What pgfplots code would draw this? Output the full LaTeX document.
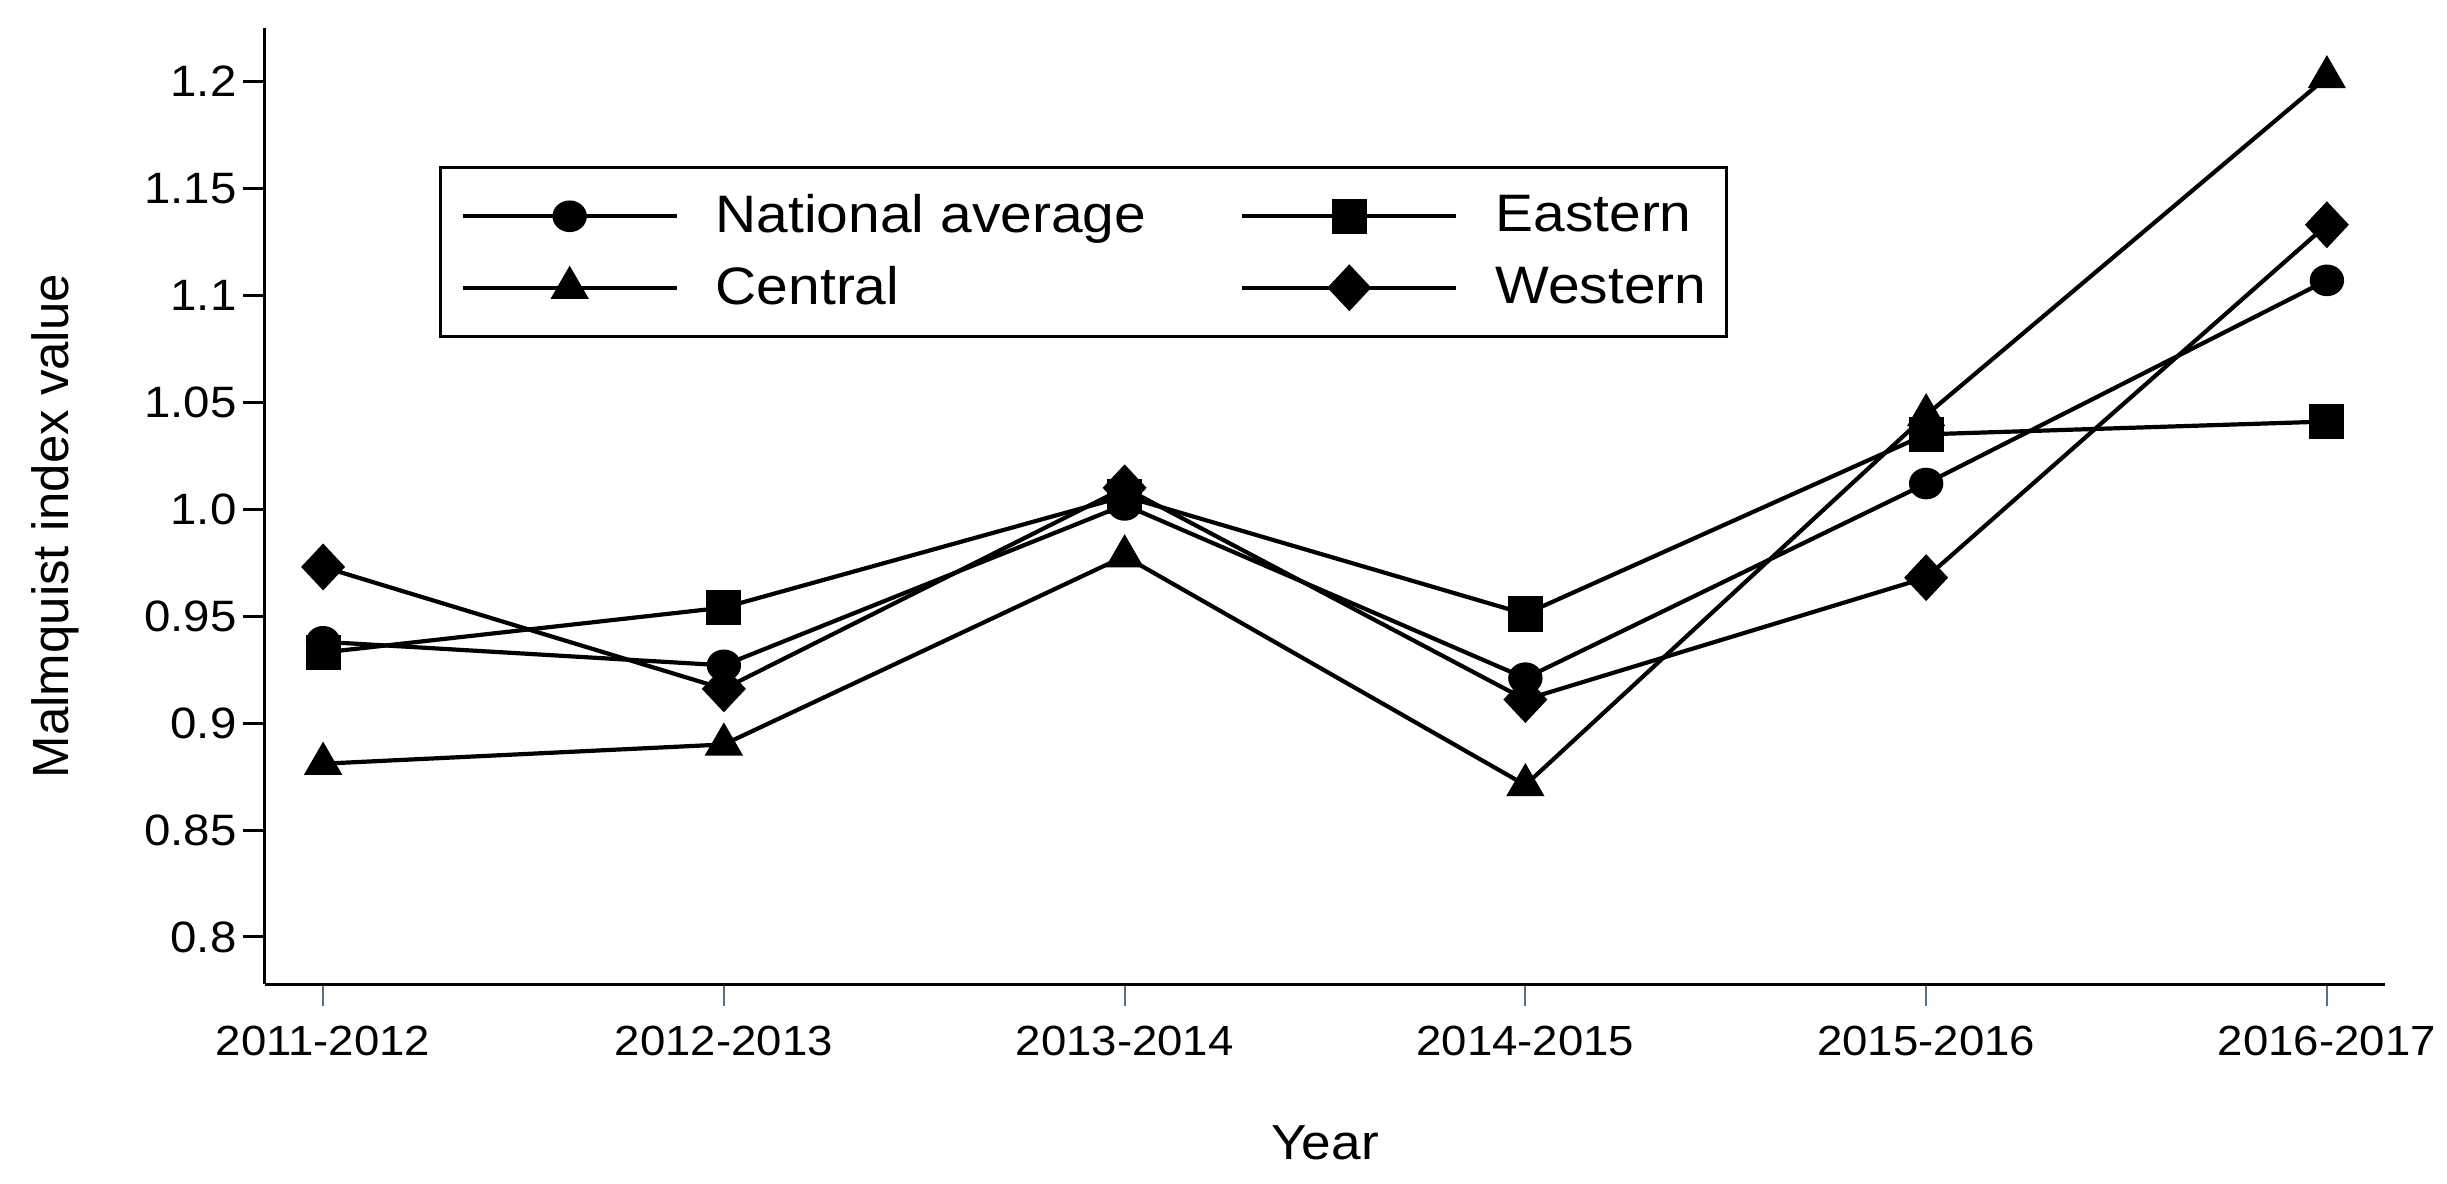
\documentclass[border=0pt]{standalone}
\usepackage{fontspec}
\setmainfont{Liberation Sans}[FakeStretch=1.08]
\newfontfamily\plainfont{Liberation Sans}
\usepackage{pgfplots}
\pgfplotsset{compat=1.18}

\definecolor{xtickcol}{RGB}{85,110,140}

% Malmquist index by region, 2011-2017
\pgfplotstableread{
x national eastern central western
0 0.938 0.933 0.881 0.973
1 0.927 0.954 0.890 0.916
2 1.002 1.006 0.978 1.010
3 0.921 0.951 0.871 0.911
4 1.012 1.035 1.044 0.968
5 1.107 1.041 1.202 1.133
}\malmdata

\begin{document}
\begin{tikzpicture}
\begin{axis}[
    name=ax,
    scale only axis,
    width=21.2cm, height=9.56cm,
    xmin=-0.145, xmax=5.145,
    ymin=0.778, ymax=1.225,
    axis lines=left,
    axis line style={-, black, line width=0.3mm},
    tick align=outside,
    major tick length=2.2mm,
    xtick={0,...,5},
    xticklabels={2011-2012,2012-2013,2013-2014,2014-2015,2015-2016,2016-2017},
    ytick={0.8,0.85,0.9,0.95,1.0,1.05,1.1,1.15,1.2},
    yticklabels={0.8,0.85,0.9,0.95,1.0,1.05,1.1,1.15,1.2},
    xtick style={color=xtickcol, line width=0.2mm},
    ytick style={black, line width=0.3mm},
    xticklabel style={font=\fontsize{12}{14}\selectfont, yshift=-0.8mm},
    yticklabel style={font=\fontsize{12.5}{14}\selectfont, xshift=0.6mm},
    /pgf/number format/assume math mode=true,
    xlabel={Year},
    ylabel={Malmquist index value},
    xlabel style={font=\fontsize{14}{16}\selectfont, at={(axis description cs:0.5,-0.184)}, anchor=base},
    ylabel style={font=\plainfont\fontsize{14.5}{16}\selectfont, at={(axis description cs:-0.0929,0.479)}, anchor=base},
    every axis plot/.append style={black, line width=0.42mm},
    legend columns=2,
    legend cell align=left,
    legend image code/.code={
        \draw[mark repeat=2, mark phase=2, #1]
            plot coordinates {(0cm,0cm) (1.07cm,0cm) (2.14cm,0cm)};
    },
    legend style={
        at={(axis description cs:0.0821,0.8556)}, anchor=north west,
        draw=black, line width=0.3mm,
        inner xsep=2mm, inner ysep=2.7mm,
        font=\fontsize{15}{17}\selectfont,
        row sep=2.8mm,
        nodes={inner sep=0pt},
        /tikz/every odd column/.append style={column sep=3.7mm},
        /tikz/every even column/.append style={column sep=9.4mm},
    },
]
\addplot[mark=*, mark size=3.9pt, mark options={solid, xscale=1.1}] table[x=x, y=national] {\malmdata};
\addlegendentry{National average}
\addplot[mark=square*, mark size=4.4pt, mark options={solid}] table[x=x, y=eastern] {\malmdata};
\addlegendentry{Eastern}
\addplot[mark=triangle*, mark size=5.1pt, mark options={solid}] table[x=x, y=central] {\malmdata};
\addlegendentry{Central}
\addplot[mark=diamond*, mark size=5.8pt, mark options={solid, xscale=1.25}] table[x=x, y=western] {\malmdata};
\addlegendentry{Western}
\end{axis}
\pgfresetboundingbox
\useasboundingbox (ax.south west) ++(-2.65cm,-1.99cm) rectangle ++(24.47cm,11.83cm);
\end{tikzpicture}
\end{document}
